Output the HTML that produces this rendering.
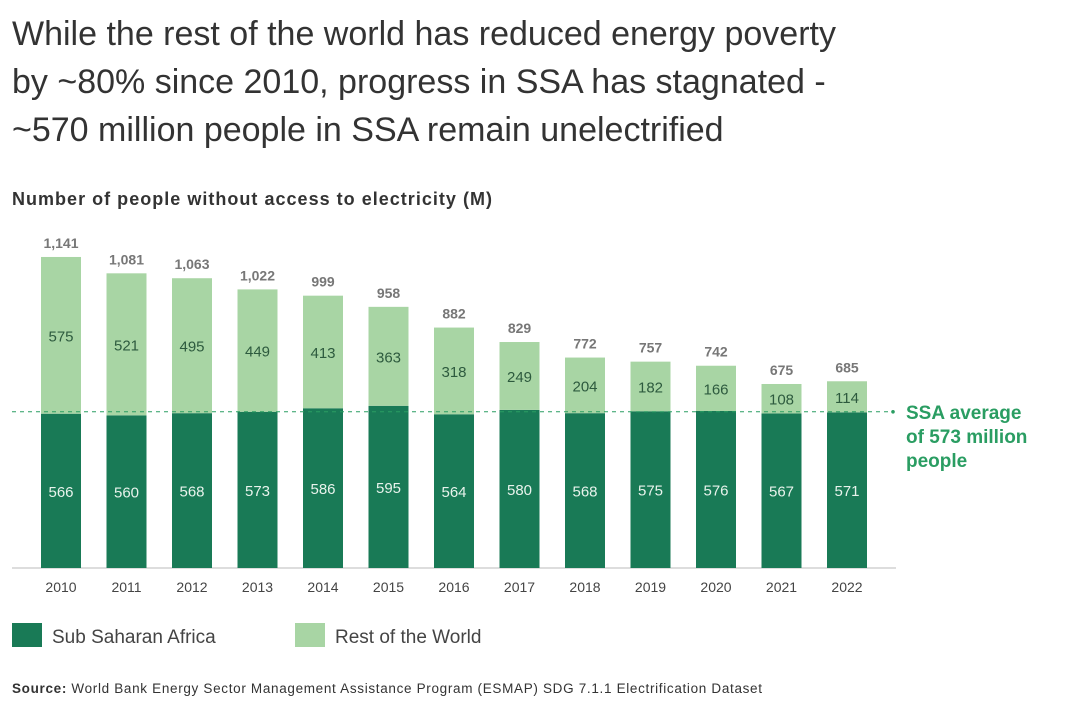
<!DOCTYPE html>
<html><head><meta charset="utf-8"><style>
body{margin:0;background:#fff;width:1086px;height:714px;overflow:hidden;font-family:"Liberation Sans",sans-serif;}
.t{position:absolute;left:12px;top:10px;font-size:34px;line-height:48px;color:#333;letter-spacing:0px;}
</style></head><body>
<div class="t">While the rest of the world has reduced energy poverty<br>by ~80% since 2010, progress in SSA has stagnated -<br>~570 million people in SSA remain unelectrified</div>
<svg id="c" width="1086" height="714" style="position:absolute;left:0;top:0">
<text x="12" y="205" font-size="18" font-weight="bold" fill="#333" textLength="480">Number of people without access to electricity (M)</text>
<line x1="12" y1="568" x2="896" y2="568" stroke="#bbb"/>
<g id="bars"></g>
<line id="avg" x1="12" x2="888" stroke="#2a9d62" stroke-dasharray="4,4"/>
<circle id="avgdot" cx="893" r="1.8" fill="#2a9d62"/>
<text x="906" y="419" font-size="19" font-weight="bold" fill="#2a9d62"><tspan x="906">SSA average</tspan><tspan x="906" dy="24">of 573 million</tspan><tspan x="906" dy="24">people</tspan></text>
<rect x="12" y="623" width="30" height="24" fill="#197a56"/>
<text x="52" y="643" font-size="19" fill="#444">Sub Saharan Africa</text>
<rect x="295" y="623" width="30" height="24" fill="#a8d5a4"/>
<text x="335" y="643" font-size="19" fill="#444">Rest of the World</text>
<text x="12" y="693" font-size="13.5" fill="#333" textLength="750"><tspan font-weight="bold">Source:</tspan> World Bank Energy Sector Management Assistance Program (ESMAP) SDG 7.1.1 Electrification Dataset</text>
</svg>
<script>
const years=[2010,2011,2012,2013,2014,2015,2016,2017,2018,2019,2020,2021,2022];
const ssa=[566,560,568,573,586,595,564,580,568,575,576,567,571];
const row=[575,521,495,449,413,363,318,249,204,182,166,108,114];
const totals=["1,141","1,081","1,063","1,022","999","958","882","829","772","757","742","675","685"];
const avgValue=573;
const base=568,k=0.2726,x0=61,step=65.5,bw=40;
const y=v=>base-v*k, xc=i=>x0+i*step;
const NS="http://www.w3.org/2000/svg",g=document.getElementById('bars');
function mk(t,a){const e=document.createElementNS(NS,t);for(const n in a)e.setAttribute(n,a[n]);g.appendChild(e);return e;}
years.forEach((yr,i)=>{
 const c=xc(i),ys=y(ssa[i]),yt=y(ssa[i]+row[i]);
 let r=mk('rect',{x:c-bw/2,y:ys,width:bw,height:base-ys,fill:'#197a56'});
 
 
 r=mk('rect',{x:c-bw/2,y:yt,width:bw,height:ys-yt,fill:'#a8d5a4'});
 
 
 let t=mk('text',{x:c,y:(ys+base)/2+6,'text-anchor':'middle','font-size':15,fill:'#e8f3ec'});t.textContent=ssa[i];
 
 
 t=mk('text',{x:c,y:(yt+ys)/2+6,'text-anchor':'middle','font-size':15,fill:'#2d5a3e'});t.textContent=row[i];
 
 
 t=mk('text',{x:c,y:yt-9,'text-anchor':'middle','font-size':14,'font-weight':'bold',fill:'#777'});t.textContent=totals[i];
 
 
 t=mk('text',{x:c,y:592,'text-anchor':'middle','font-size':14,fill:'#444'});t.textContent=yr;
 
 
});
const ay=y(avgValue);
document.getElementById('avg').setAttribute('y1',ay);
document.getElementById('avg').setAttribute('y2',ay);
document.getElementById('avgdot').setAttribute('cy',ay);
</script>
</body></html>
